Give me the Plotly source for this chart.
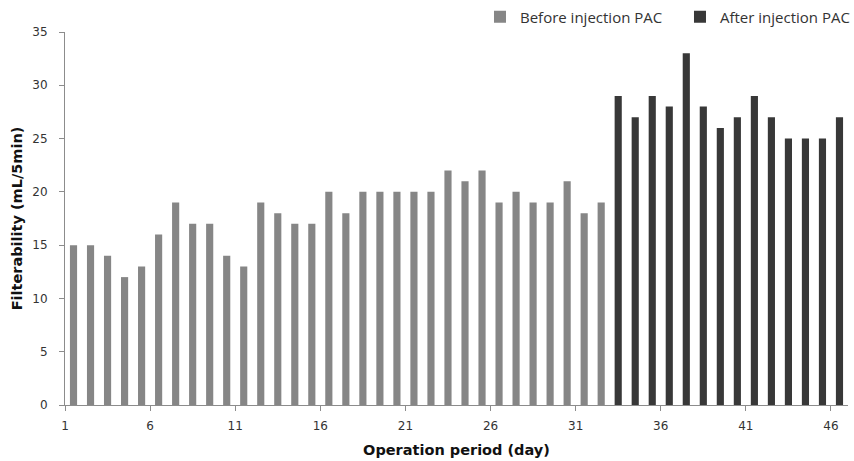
import plotly.graph_objects as go

days_before = list(range(1, 33))
vals_before = [15, 15, 14, 12, 13, 16, 19, 17, 17, 14, 13, 19, 18, 17, 17, 20,
               18, 20, 20, 20, 20, 20, 22, 21, 22, 19, 20, 19, 19, 21, 18, 19]
days_after = list(range(33, 47))
vals_after = [29, 27, 29, 28, 33, 28, 26, 27, 29, 27, 25, 25, 25, 27]

tick_labels = ["1", "6", "11", "16", "21", "26", "31", "36", "41", "46"]
tick_pos = [int(t) - 0.5 for t in tick_labels]

fig = go.Figure()
fig.add_trace(go.Bar(x=days_before, y=vals_before, name="Before injection PAC",
                     marker=dict(color="#868686", line=dict(width=0)), width=0.42))
fig.add_trace(go.Bar(x=days_after, y=vals_after, name="After injection PAC",
                     marker=dict(color="#383838", line=dict(width=0)), width=0.42))

axis_font = dict(family="DejaVu Sans", size=12, color="#333333")
title_font = dict(family="DejaVu Sans", size=14.5, color="#111111", weight="bold")
fig.update_layout(
    width=854, height=461,
    margin=dict(l=65, r=6, t=32, b=56, autoexpand=False),
    plot_bgcolor="white", paper_bgcolor="white",
    showlegend=True,
    legend=dict(orientation="h", x=0.530, xanchor="left", y=1.040, yanchor="middle",
                font=dict(family="Open Sans", size=15, color="#333333"),
                itemwidth=30, traceorder="normal",
                entrywidth=155, entrywidthmode="pixels"),
    xaxis=dict(range=[0.5, 46.5], tickvals=tick_pos, ticktext=tick_labels,
               showgrid=False, zeroline=False, showline=True, linecolor="#8c8c8c",
               linewidth=1, ticks="outside", ticklen=5, tickcolor="#8c8c8c",
               tickfont=axis_font, ticklabelstandoff=5,
               title=dict(text="Operation period (day)", font=title_font, standoff=12)),
    yaxis=dict(range=[0, 35], dtick=5, showgrid=False, zeroline=False, showline=True,
               linecolor="#8c8c8c", linewidth=1, ticks="outside", ticklen=5,
               tickcolor="#8c8c8c", tickfont=axis_font, ticklabelstandoff=9,
               title=dict(text="Filterability (mL/5min)", font=title_font, standoff=6)),
)
fig.write_html("out.html")
